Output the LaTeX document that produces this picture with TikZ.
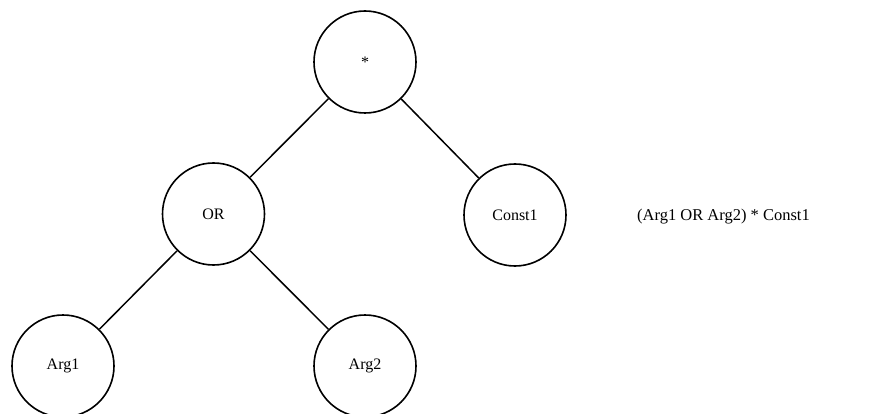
\documentclass[tikz,border=0pt]{standalone}
\usepackage{fontspec}
\setmainfont{Liberation Serif}
\begin{document}
\begin{tikzpicture}[x=1pt,y=-1pt,
  treenode/.style={circle,draw=black,line width=1.6pt,minimum size=102pt,inner sep=0pt,
    font=\fontsize{16}{19}\selectfont},
  branch/.style={draw=black,line width=1.5pt},
  caption/.style={font=\fontsize{16.5}{20}\selectfont,inner sep=0pt}]
  \useasboundingbox (0,0) rectangle (875,414);
  % expression tree
  \node[treenode] (mul)    at (365,62)  {*};
  \node[treenode] (or)     at (213.5,214) {OR};
  \node[treenode] (const1) at (515,215) {Const1};
  \node[treenode] (arg1)   at (63,366)  {Arg1};
  \node[treenode] (arg2)   at (365,366) {Arg2};
  \path[branch] (mul) -- (or);
  \path[branch] (mul) -- (const1);
  \path[branch] (or) -- (arg1);
  \path[branch] (or) -- (arg2);
  % infix form
  \node[caption] (expr) at (723.5,217) {(Arg1 OR Arg2) * Const1};
\end{tikzpicture}
\end{document}
